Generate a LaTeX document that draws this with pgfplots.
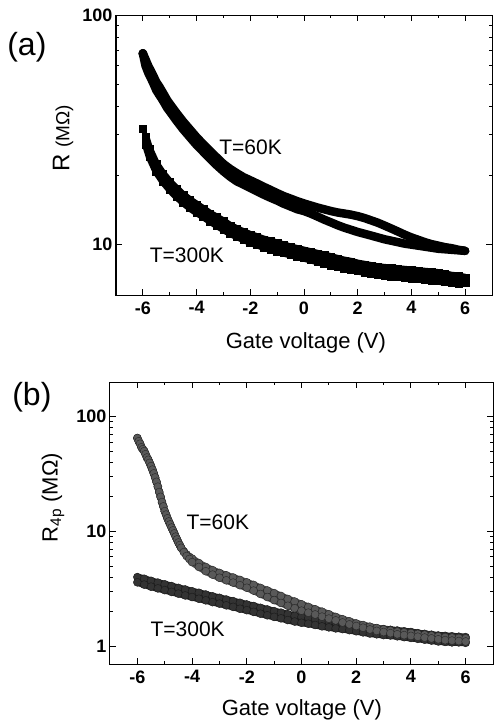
\documentclass[border=0pt]{standalone}
\usepackage{fontspec}
\setmainfont{Liberation Sans}
\usepackage{pgfplots}
\usepackage{pgfplotstable}
\pgfplotsset{compat=1.18}

% (a) two-probe R, T=60K: V, forward, backward sweep
\pgfplotstableread{
V up dn
-6.00 68 68
-5.90 64 60
-5.80 60 56
-5.70 57 53
-5.60 54 50
-5.50 51 47
-5.40 49 45
-5.30 46.8 43.2
-5.20 44.7 41.3
-5.10 42.6 39.4
-5.00 41 38
-4.75 37.4 34.6
-4.50 34.3 31.7
-4.25 31.7 29.3
-4.00 29.3 27.1
-3.75 27.3 25.3
-3.50 25.5 23.6
-3.25 23.9 22.1
-3.00 22.4 20.8
-2.75 21.3 19.7
-2.50 20.4 18.8
-2.25 19.6 18.2
-2.00 19.0 17.6
-1.75 18.4 17.0
-1.50 17.8 16.45
-1.25 17.25 15.95
-1.00 16.7 15.5
-0.75 16.2 15.0
-0.50 15.8 14.6
-0.25 15.4 14.2
0.00 15.05 13.95
0.25 14.75 13.6
0.50 14.45 13.2
0.75 14.2 12.8
1.00 13.95 12.45
1.25 13.75 12.1
1.50 13.6 11.8
1.75 13.45 11.55
2.00 13.25 11.3
2.25 13.0 11.1
2.50 12.7 10.9
2.75 12.4 10.7
3.00 12.05 10.5
3.25 11.7 10.35
3.50 11.35 10.2
3.75 11.0 10.05
4.00 10.7 9.95
4.25 10.45 9.85
4.50 10.2 9.75
4.75 10.0 9.65
5.00 9.85 9.55
5.25 9.7 9.5
5.50 9.6 9.45
5.75 9.45 9.4
6.00 9.35 9.35
}\aSixty

% (a) T=300K
\pgfplotstableread{
V up dn
-5.90 29.5 27.3
-5.75 26 24
-5.50 22.4 20.7
-5.25 20.3 18.75
-5.00 18.7 17.3
-4.75 17.5 16.15
-4.50 16.4 15.2
-4.25 15.6 14.4
-4.00 14.9 13.75
-3.75 14.25 13.2
-3.50 13.6 12.6
-3.25 13.1 12.1
-3.00 12.6 11.6
-2.75 12.05 11.15
-2.50 11.65 10.8
-2.25 11.3 10.5
-2.00 11.0 10.2
-1.75 10.75 9.95
-1.50 10.5 9.7
-1.25 10.3 9.5
-1.00 10.1 9.3
-0.75 9.9 9.15
-0.50 9.7 9.0
-0.25 9.55 8.85
0.00 9.4 8.7
0.25 9.25 8.55
0.50 9.1 8.4
0.75 8.95 8.25
1.00 8.8 8.1
1.25 8.65 8.0
1.50 8.5 7.85
1.75 8.4 7.75
2.00 8.25 7.65
2.25 8.15 7.55
2.50 8.05 7.45
2.75 7.95 7.35
3.00 7.9 7.3
3.25 7.85 7.25
3.50 7.8 7.2
3.75 7.75 7.15
4.00 7.7 7.1
4.25 7.65 7.05
4.50 7.6 7.0
4.75 7.55 6.95
5.00 7.5 6.9
5.25 7.4 6.85
5.50 7.3 6.8
5.75 7.25 6.75
6.00 7.15 6.8
}\aThreeHundred

% (b) four-probe R, T=60K
\pgfplotstableread{
V up dn
-6.00 65 65
-5.95 61 61
-5.90 58 58
-5.85 54 54
-5.80 52 52
-5.75 50 50
-5.70 47 47
-5.65 44 44
-5.60 42 42
-5.55 39.5 39.5
-5.50 37 37
-5.45 34.5 34.5
-5.40 32 32
-5.35 29.5 29.5
-5.30 27 27
-5.25 24.5 24.5
-5.20 22 22
-5.15 20 20
-5.10 18 18
-5.05 16.5 16.5
-5.00 15 15
-4.95 14 14
-4.90 13 13
-4.85 12.2 12.2
-4.80 11.5 11.5
-4.75 10.8 10.8
-4.70 10.2 10.2
-4.65 9.6 9.6
-4.60 9.0 9.0
-4.55 8.5 8.5
-4.50 8.0 8.0
-4.45 7.6 7.6
-4.40 7.2 7.2
-4.30 6.7 6.6
-4.20 6.3 6.1
-4.10 6.0 5.75
-4.00 5.8 5.4
-3.75 5.3 4.9
-3.50 4.9 4.5
-3.25 4.6 4.2
-3.00 4.35 3.95
-2.75 4.15 3.75
-2.50 3.97 3.58
-2.25 3.78 3.4
-2.00 3.6 3.23
-1.75 3.42 3.05
-1.50 3.22 2.85
-1.25 3.06 2.68
-1.00 2.9 2.52
-0.75 2.74 2.38
-0.50 2.58 2.25
-0.25 2.45 2.14
0.00 2.32 2.04
0.25 2.2 1.96
0.50 2.1 1.89
0.75 2.0 1.81
1.00 1.9 1.74
1.25 1.8 1.68
1.50 1.72 1.61
1.75 1.65 1.55
2.00 1.58 1.5
2.25 1.53 1.45
2.50 1.48 1.40
2.75 1.44 1.36
3.00 1.40 1.33
3.25 1.37 1.30
3.50 1.34 1.27
3.75 1.32 1.25
4.00 1.30 1.23
4.25 1.28 1.21
4.50 1.26 1.19
4.75 1.24 1.17
5.00 1.22 1.15
5.25 1.20 1.13
5.50 1.19 1.12
5.75 1.18 1.11
6.00 1.17 1.10
}\bSixty

% (b) T=300K
\pgfplotstableread{
V up dn
-6.00 4.0 3.6
-5.75 3.87 3.44
-5.50 3.71 3.3
-5.25 3.58 3.19
-5.00 3.46 3.08
-4.75 3.34 2.97
-4.50 3.22 2.87
-4.25 3.12 2.77
-4.00 3.01 2.68
-3.75 2.92 2.59
-3.50 2.82 2.51
-3.25 2.72 2.42
-3.00 2.64 2.35
-2.75 2.55 2.27
-2.50 2.47 2.20
-2.25 2.39 2.12
-2.00 2.31 2.06
-1.75 2.24 1.99
-1.50 2.16 1.92
-1.25 2.09 1.86
-1.00 2.02 1.80
-0.75 1.96 1.75
-0.50 1.90 1.69
-0.25 1.84 1.64
0.00 1.80 1.60
0.25 1.76 1.57
0.50 1.72 1.53
0.75 1.67 1.49
1.00 1.64 1.46
1.25 1.61 1.43
1.50 1.58 1.41
1.75 1.55 1.38
2.00 1.52 1.35
2.25 1.48 1.32
2.50 1.45 1.29
2.75 1.43 1.27
3.00 1.41 1.25
3.25 1.39 1.24
3.50 1.37 1.22
3.75 1.35 1.20
4.00 1.33 1.18
4.25 1.30 1.16
4.50 1.28 1.14
4.75 1.26 1.12
5.00 1.24 1.10
5.25 1.23 1.09
5.50 1.22 1.08
5.75 1.21 1.08
6.00 1.20 1.07
}\bThreeHundred

\pgfplotsset{every axis/.append style={
    scale only axis, anchor=north west,
    xmin=-7, xmax=7, xtick={-6,-4,...,6}, minor x tick num=1,
    tick align=inside, major tick length=6pt, minor tick length=3pt,
    axis line style={line width=1pt}, every tick/.style={black, line width=0.9pt},
    /pgf/number format/assume math mode=true,
    tick label style={font=\fontsize{18}{18}\selectfont\bfseries},
    xticklabel style={yshift=-3pt},
    clip=false,
}}

\begin{document}
\begin{tikzpicture}
\path[use as bounding box] (0pt,0pt) rectangle (494pt,-726pt);

% ---------- (a)
\begin{semilogyaxis}[at={(116pt,-15pt)}, width=376pt, height=280pt,
  ymin=6, ymax=100, ytick={10,100}, yticklabels={10,100},
]
\addplot[black, line width=8.5pt, line join=round, line cap=round] table[x=V, y=up] {\aSixty};
\addplot[black, line width=8.5pt, line join=round, line cap=round] table[x=V, y=dn] {\aSixty};
\addplot[black, only marks, mark=*, mark size=4.2pt] coordinates {(-6,68)};
\addplot[black, only marks, mark=square*, mark size=3.6pt] coordinates {(-6,32)};
\addplot[black, only marks, mark=square*, mark size=3.6pt] table[x=V, y=up] {\aThreeHundred};
\addplot[black, only marks, mark=square*, mark size=3.6pt] table[x=V, y=dn] {\aThreeHundred};
\addplot[black, line width=7.5pt] table[x=V, y=up] {\aThreeHundred};
\addplot[black, line width=7.5pt] table[x=V, y=dn] {\aThreeHundred};
\node[font=\fontsize{21}{21}\selectfont] at (axis cs:-1.99,26.6) {T=60K};
\node[font=\fontsize{21}{21}\selectfont] at (axis cs:-4.36,8.95) {T=300K};
\node[font=\fontsize{32}{32}\selectfont] at (axis description cs:-0.237,0.886) {(a)};
\node[rotate=90, font=\fontsize{24}{24}\selectfont] at (axis description cs:-0.141,0.56)
  {R {\fontsize{19}{19}\selectfont(MΩ)}};
\node[font=\fontsize{22}{22}\selectfont] at (axis description cs:0.505,-0.171) {Gate voltage (V)};
\end{semilogyaxis}

% ---------- (b)
\begin{semilogyaxis}[at={(110pt,-382pt)}, width=383pt, height=282pt,
  ymin=0.7, ymax=200, ytick={1,10,100}, yticklabels={1,10,100},
]
\addplot[black!85, line width=7pt, line join=round, line cap=round] table[x=V, y=up] {\bThreeHundred};
\addplot[black!85, line width=7pt, line join=round, line cap=round] table[x=V, y=dn] {\bThreeHundred};
\addplot[black!90, only marks, mark=*, mark size=4pt, mark options={fill=black!80}] table[x=V, y=up] {\bThreeHundred};
\addplot[black!90, only marks, mark=*, mark size=4pt, mark options={fill=black!80}] table[x=V, y=dn] {\bThreeHundred};
\addplot[black!70, line width=7pt, line join=round, line cap=round] table[x=V, y=up] {\bSixty};
\addplot[black!70, line width=7pt, line join=round, line cap=round] table[x=V, y=dn] {\bSixty};
\addplot[black!85, only marks, mark=*, mark size=4pt, mark options={fill=black!65}] table[x=V, y=up] {\bSixty};
\addplot[black!85, only marks, mark=*, mark size=4pt, mark options={fill=black!65}] table[x=V, y=dn] {\bSixty};
\node[font=\fontsize{21}{21}\selectfont] at (axis cs:-3.06,11.9) {T=60K};
\node[font=\fontsize{21}{21}\selectfont] at (axis cs:-4.16,1.40) {T=300K};
\node[font=\fontsize{32}{32}\selectfont] at (axis description cs:-0.204,0.947) {(b)};
\node[rotate=90, font=\fontsize{22}{22}\selectfont] at (axis description cs:-0.149,0.59)
  {R\textsubscript{4p} (MΩ)};
\node[font=\fontsize{22}{22}\selectfont] at (axis description cs:0.501,-0.163) {Gate voltage (V)};
\end{semilogyaxis}
\end{tikzpicture}
\end{document}
